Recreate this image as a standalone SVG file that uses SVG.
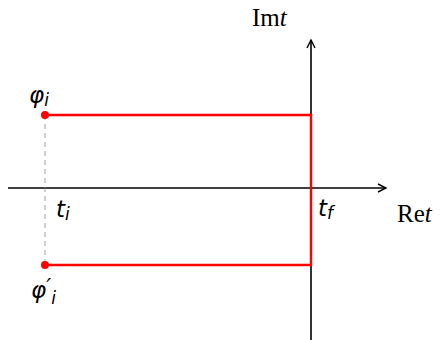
<svg xmlns="http://www.w3.org/2000/svg" width="444" height="340" viewBox="0 0 444 340">
<style>
.ax{stroke:#000;stroke-width:1.6;fill:none}
.red{stroke:#f00;stroke-width:2.4;fill:none}
.sans{font-family:"DejaVu Sans","Noto Sans",sans-serif;font-size:23px;font-style:italic;fill:#000}
.serif{font-family:"Liberation Serif","DejaVu Serif",serif;font-size:25px;fill:#000}
</style>
<defs>
<marker id="arr" viewBox="0 0 10 10" refX="9" refY="5" markerWidth="10" markerHeight="10" markerUnits="userSpaceOnUse" orient="auto">
<path d="M1,1 L9,5 L1,9" fill="none" stroke="#000" stroke-width="1.4"/>
</marker>
</defs>
<g id="connectors">
<line class="ax" x1="8" y1="188" x2="386" y2="188" marker-end="url(#arr)"/>
<line class="ax" x1="311" y1="340" x2="311" y2="40" marker-end="url(#arr)"/>
<line x1="45" y1="115" x2="45" y2="265" stroke="#888" stroke-width="0.8" stroke-dasharray="5,4"/>
<path class="red" d="M45,115 H311 V265 H45"/>
</g>
<g id="phi_i">
<circle cx="45" cy="115" r="4" fill="#f00"/>
<text class="sans" x="29" y="103">φ<tspan font-size="17" dy="3">i</tspan></text>
</g>
<g id="phi_i_prime">
<circle cx="45" cy="265" r="4" fill="#f00"/>
<text class="sans" x="31" y="298">φ<tspan font-size="22" dy="-4">′</tspan><tspan font-size="17" dy="10">i</tspan></text>
</g>
<g id="t_i"><text class="sans" x="56" y="217">t<tspan font-size="17" dy="3">i</tspan></text></g>
<g id="t_f"><text class="sans" x="318" y="216">t<tspan font-size="17" dy="3">f</tspan></text></g>
<g id="re"><text class="serif" x="397" y="222">Re<tspan font-style="italic">t</tspan></text></g>
<g id="im"><text class="serif" x="252" y="26">Im<tspan font-style="italic">t</tspan></text></g>
</svg>
